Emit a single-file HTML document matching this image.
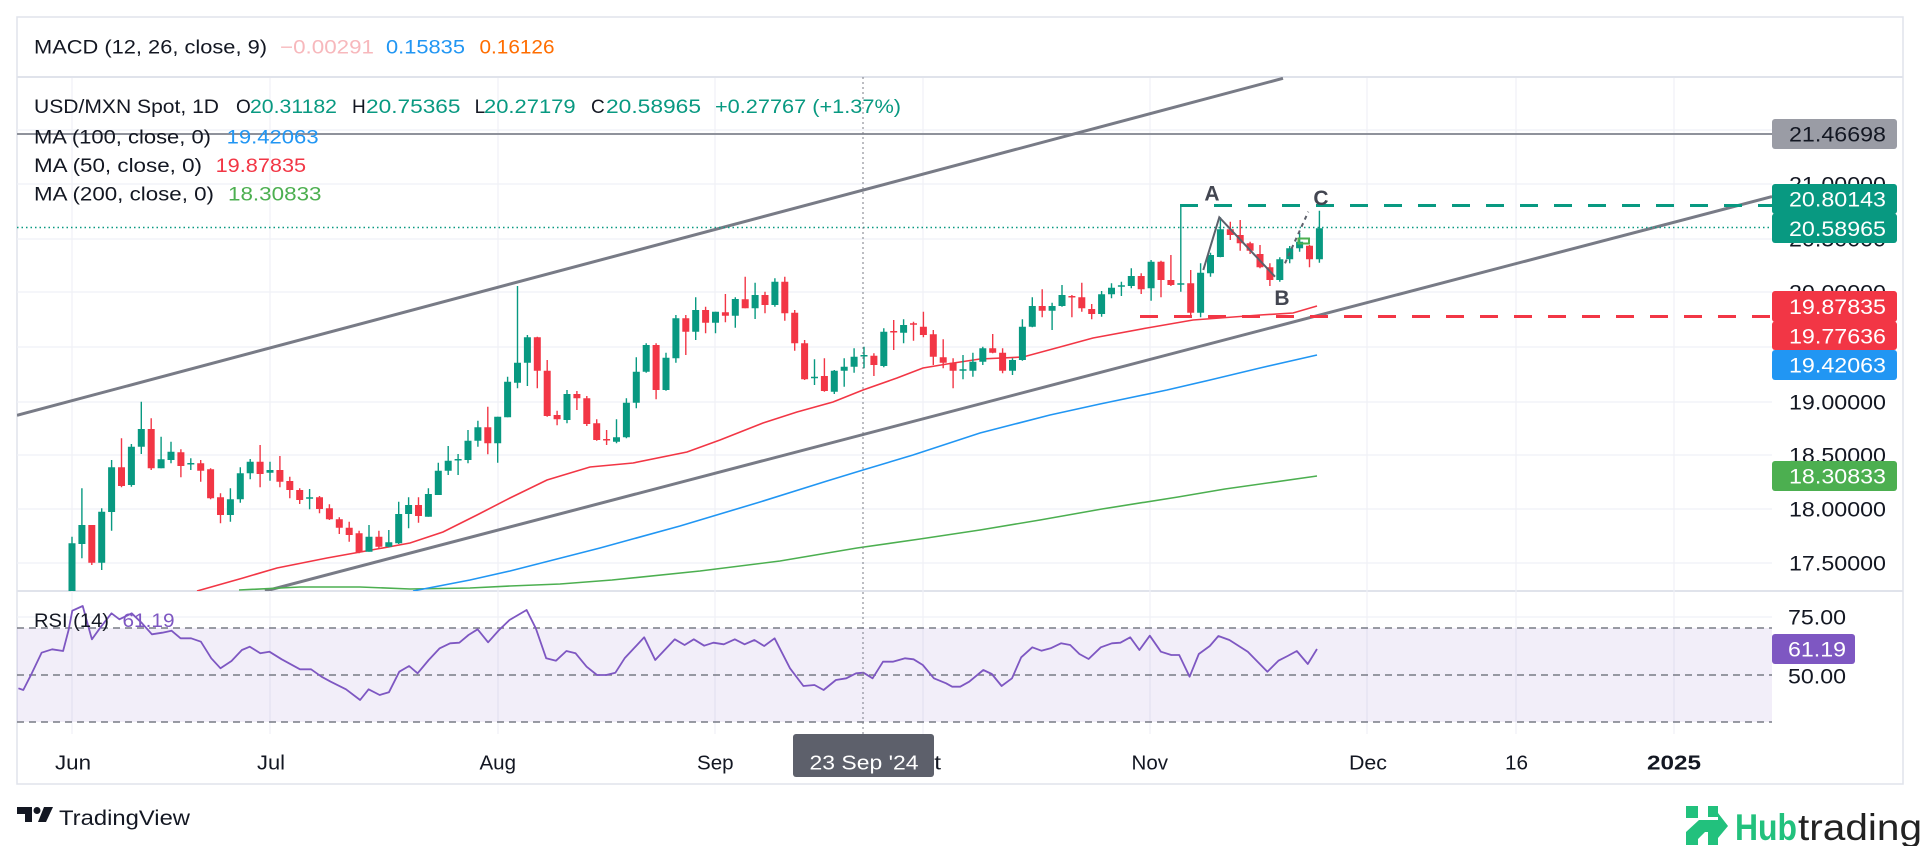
<!DOCTYPE html>
<html><head><meta charset="utf-8"><style>
html,body{margin:0;padding:0;background:#fff;}
svg{display:block;}
text{font-family:"Liberation Sans",Arial,sans-serif;}
</style></head><body>
<svg width="1920" height="846" viewBox="0 0 1920 846" xmlns="http://www.w3.org/2000/svg">
<defs>
<clipPath id="main"><rect x="17" y="77" width="1755" height="514"/></clipPath>
<clipPath id="rsi"><rect x="17" y="591" width="1755" height="143"/></clipPath>
</defs>
<rect width="1920" height="846" fill="#fff"/>
<!-- frame -->
<rect x="17" y="17" width="1886" height="767" fill="none" stroke="#e0e3eb" stroke-width="1.5"/>
<line x1="17" y1="77" x2="1903" y2="77" stroke="#e0e3eb" stroke-width="2"/>
<line x1="17" y1="591" x2="1903" y2="591" stroke="#e0e3eb" stroke-width="2"/>
<!-- vertical grid -->
<g stroke="#eff1f6" stroke-width="1.2">
<line x1="72" y1="78" x2="72" y2="734"/><line x1="270" y1="78" x2="270" y2="734"/><line x1="498" y1="78" x2="498" y2="734"/><line x1="715" y1="78" x2="715" y2="734"/><line x1="923" y1="78" x2="923" y2="734"/><line x1="1150" y1="78" x2="1150" y2="734"/><line x1="1367" y1="78" x2="1367" y2="734"/><line x1="1516" y1="78" x2="1516" y2="734"/><line x1="1674" y1="78" x2="1674" y2="734"/>
</g>
<!-- horizontal grid -->
<g stroke="#eff1f6" stroke-width="1.2">
<line x1="17" y1="130" x2="1772" y2="130"/><line x1="17" y1="184" x2="1772" y2="184"/><line x1="17" y1="239" x2="1772" y2="239"/><line x1="17" y1="292" x2="1772" y2="292"/><line x1="17" y1="347" x2="1772" y2="347"/><line x1="17" y1="402" x2="1772" y2="402"/><line x1="17" y1="455" x2="1772" y2="455"/><line x1="17" y1="509" x2="1772" y2="509"/><line x1="17" y1="563" x2="1772" y2="563"/><line x1="17" y1="617" x2="1772" y2="617"/>
</g>

<g clip-path="url(#main)">
<!-- horizontal resistance line -->
<line x1="17" y1="134" x2="1772" y2="134" stroke="#8f929b" stroke-width="2"/>
<!-- channel -->
<line x1="17" y1="415.3" x2="1283" y2="78.3" stroke="#787b86" stroke-width="3"/>
<line x1="265" y1="591.1" x2="1772" y2="196.6" stroke="#787b86" stroke-width="3"/>
<!-- MAs -->
<polyline fill="none" stroke="#4caf50" stroke-width="1.6" points="239,590 300,587 360,587 410,589 470,588 510,586 560,584 612,580 700,571 780,561 857,548 920,539 980,530 1040,520 1102,509 1178,497 1225,489 1317,476"/>
<polyline fill="none" stroke="#2196f3" stroke-width="1.6" points="413,591 470,580 510,571 600,548 680,526 760,502 827,481 863,470 913,455 980,433 1050,415 1100,404 1167,390 1210,380 1260,368 1317,355"/>
<polyline fill="none" stroke="#f23645" stroke-width="1.6" points="197,591 243,578 277,568 327,558 377,549 410,543 443,532 477,515 510,498 547,480 590,467 633,463 687,452 720,440 763,423 797,412 833,402 863,390 897,378 923,368 947,364 980,359 1023,357 1060,347 1093,338 1147,328 1193,320 1260,315 1293,313 1317,306"/>
<!-- current price dotted -->
<line x1="17" y1="227.5" x2="1772" y2="227.5" stroke="#089981" stroke-width="1.5" stroke-dasharray="1.5 3"/>
<!-- annotation dashed lines -->
<line x1="1180" y1="205.5" x2="1772" y2="205.5" stroke="#089981" stroke-width="3" stroke-dasharray="18 16"/>
<line x1="1140" y1="316.5" x2="1772" y2="316.5" stroke="#f23645" stroke-width="3" stroke-dasharray="18 16"/>
<!-- candles green -->
<path fill="none" stroke="#089981" stroke-width="1.4" d="M72 536.7V600M81.9 488.3V558.3M101.7 508.3V570M111.6 460V530.7M131.4 444V486.7M141.3 401.7V454M161.1 436.7V468.3M171 441.7V463.3M190.8 458.3V470M230.4 488.3V521.7M240.3 467.3V502.7M250.2 459V479.3M270 461.7V480.7M309.6 489V509.3M369 525V551.7M388.8 530V547.3M398.7 501.7V544M408.6 497.3V528.3M428.4 488.3V516.7M438.3 462.7V495M448.2 446V475M458.1 454V475M468 430V463.3M477.9 420.7V446.7M497.7 416.7V462.7M507.6 376.7V417.3M517.5 286V388.3M527.4 335V386M567 390V423.3M616.5 419.3V443.3M626.4 398.3V438.3M636.3 357.3V408.3M646.2 343.3V372.7M666 352.7V390.7M675.9 315V362.7M695.7 297.3V340M715.5 311.7V333.3M735.3 297.3V327.7M755.1 282.7V319M774.9 278.3V306.7M814.5 359.3V385M834.3 370V394M844.2 358.3V386.7M854.1 348.3V372.7M864 346.7V368.3M883.8 328.3V367.3M903.6 319.3V343.3M963 355V379.3M972.9 352.7V376.7M982.8 346.7V365M1012.5 358.3V375M1022.4 319.3V360.7M1032.3 297.3V327.3M1052.1 302.7V330M1062 285V306.7M1101.6 291V316.7M1111.5 283.3V298.3M1121.4 281.7V296M1131.3 268.3V288.3M1151.1 260V300.7M1180.8 205V291.7M1200.6 263.3V317.3M1210.5 252.7V276.7M1220.4 217.3V257.3M1279.8 257.3V281.7M1289.7 246V263.3M1299.6 232.7V251.7M1319.4 210.7V262.7"/>
<path fill="#089981" d="M68.5 543.3h7V600h-7zM78.4 525h7V544h-7zM98.2 511.7h7V562.7h-7zM108.1 467.3h7V512h-7zM127.9 446.7h7V485h-7zM137.8 429h7V446.7h-7zM157.6 459.3h7V468.3h-7zM167.5 451.7h7V460h-7zM187.3 463h7V464.5h-7zM226.9 499.3h7V515h-7zM236.8 473.3h7V499.3h-7zM246.7 461.7h7V473.3h-7zM266.5 470h7V472.7h-7zM306.1 497.3h7V498.7h-7zM365.5 536.7h7V551.7h-7zM385.3 542.3h7V546.7h-7zM395.2 514h7V543.3h-7zM405.1 505h7V514h-7zM424.9 494h7V516.7h-7zM434.8 470.7h7V495h-7zM444.7 460.7h7V470.7h-7zM454.6 459h7V460.5h-7zM464.5 440.7h7V460h-7zM474.4 427.3h7V440.7h-7zM494.2 416.7h7V443.3h-7zM504.1 381.7h7V417.3h-7zM514 362.7h7V382.7h-7zM523.9 337.3h7V362.7h-7zM563.5 394h7V420h-7zM613 437.3h7V441.7h-7zM622.9 402.7h7V437.3h-7zM632.8 371.7h7V402.7h-7zM642.7 345h7V371.7h-7zM662.5 357.7h7V390h-7zM672.4 318.3h7V358.3h-7zM692.2 310h7V331.7h-7zM712 311.7h7V322.7h-7zM731.8 299h7V315.7h-7zM751.6 295h7V308.3h-7zM771.4 281.7h7V305h-7zM811 376.7h7V378.3h-7zM830.8 370.7h7V391.7h-7zM840.7 366.7h7V370.7h-7zM850.6 356.7h7V366.7h-7zM860.5 355h7V356.5h-7zM880.3 331.7h7V366h-7zM900.1 325h7V332.7h-7zM959.5 369.3h7V370.7h-7zM969.4 361.7h7V370.7h-7zM979.3 348.3h7V361.7h-7zM1009 360h7V370.7h-7zM1018.9 326.7h7V360h-7zM1028.8 306h7V326.7h-7zM1048.6 306h7V310.7h-7zM1058.5 295h7V306h-7zM1098.1 294.3h7V314h-7zM1108 287.7h7V294.3h-7zM1117.9 285.3h7V286.7h-7zM1127.8 276h7V286h-7zM1147.6 261.7h7V288.3h-7zM1177.3 283.3h7V284.7h-7zM1197.1 272.7h7V312.7h-7zM1207 255h7V273.3h-7zM1216.9 229.3h7V257h-7zM1276.3 259.3h7V280h-7zM1286.2 248.3h7V259.3h-7zM1296.1 241.7h7V248.3h-7zM1315.9 228.3h7V259.3h-7z"/>
<!-- candles red -->
<path fill="none" stroke="#f23645" stroke-width="1.4" d="M91.8 525V565M121.5 438.3V487.3M151.2 418.3V470M180.9 449.3V477.3M200.7 460V481.7M210.6 468.3V499.3M220.5 493.3V523.3M260.1 445V487.3M279.9 456V487.3M289.8 476.7V498.3M299.7 488.3V504M319.5 496V513.3M329.4 504.3V520M339.3 517.3V534M349.2 521.7V541.7M359.1 530.7V553.3M378.9 530.7V548.3M418.5 497.3V522.7M487.8 406.7V454.3M537.3 336.7V388.3M547.2 360V416.7M557.1 410.7V425.3M576.9 391V410M586.8 396V426M596.7 419.3V440.7M606.6 430V445M656.1 343.3V399.3M685.8 315V355M705.6 306.7V333.3M725.4 294V322.3M745.2 276.7V308.3M765 291.7V313.3M784.8 276.7V320.7M794.7 310V350.7M804.6 340V380M824.4 358.3V391.7M873.9 353.3V376M893.7 320V350M913.5 321.7V340.7M923.4 311.7V337.3M933.3 330V365M943.2 339.3V368.3M953.1 358.3V388.3M992.7 334V353.3M1002.6 348.3V373.3M1042.2 289.3V317.3M1071.9 295V317.3M1081.8 282.7V311.7M1091.7 304V319.3M1141.2 273.3V294M1161 260.7V297.3M1170.9 255V286M1190.7 270V317.3M1230.3 221.7V240M1240.2 220V250.7M1250.1 241.7V254M1260 245V268.3M1269.9 263.3V286M1309.5 245V267.3"/>
<path fill="#f23645" d="M88.3 525h7V562.7h-7zM118 467.3h7V486h-7zM147.7 429h7V468.3h-7zM177.4 452.3h7V466h-7zM197.2 463.3h7V470.7h-7zM207.1 469.3h7V498.3h-7zM217 497.3h7V515h-7zM256.6 461.7h7V474h-7zM276.4 470h7V481.7h-7zM286.3 481h7V490h-7zM296.2 490h7V500h-7zM316 497.3h7V509h-7zM325.9 508.3h7V519.3h-7zM335.8 519.3h7V527.7h-7zM345.7 527.7h7V535h-7zM355.6 533.3h7V552.3h-7zM375.4 536.7h7V546.7h-7zM415 505h7V516h-7zM484.3 427.3h7V443.3h-7zM533.8 337.3h7V370.7h-7zM543.7 370.7h7V416h-7zM553.6 415h7V419.3h-7zM573.4 394h7V398.3h-7zM583.3 398.3h7V424h-7zM593.2 423.3h7V440h-7zM603.1 439h7V440.5h-7zM652.6 345h7V390h-7zM682.3 318.3h7V331.7h-7zM702.1 310h7V322.7h-7zM721.9 312.3h7V315.7h-7zM741.7 299.3h7V308.3h-7zM761.5 295h7V305h-7zM781.3 281.7h7V313.3h-7zM791.2 312.7h7V343.3h-7zM801.1 343.3h7V379.3h-7zM820.9 376h7V391h-7zM870.4 355.7h7V365h-7zM890.2 331h7V332.5h-7zM910 323.3h7V324.7h-7zM919.9 326.7h7V335h-7zM929.8 334.3h7V356.7h-7zM939.7 357.3h7V362.7h-7zM949.6 362.7h7V370.7h-7zM989.2 348.3h7V352.7h-7zM999.1 352.7h7V370.7h-7zM1038.7 306h7V310.7h-7zM1068.4 296h7V297.5h-7zM1078.3 297.3h7V308.3h-7zM1088.2 309h7V314h-7zM1137.7 276h7V289.3h-7zM1157.5 261.7h7V280h-7zM1167.4 280h7V285h-7zM1187.2 283.3h7V312.7h-7zM1226.8 229.3h7V235h-7zM1236.7 235h7V243.3h-7zM1246.6 243.3h7V250.7h-7zM1256.5 254h7V267.3h-7zM1266.4 267.3h7V280h-7zM1306 245.7h7V259.3h-7z"/>
<!-- ABC wave -->
<polyline fill="none" stroke="#5d606b" stroke-width="2" points="1203.3,270 1219.3,217.3 1275,276.7"/>
<line x1="1285" y1="263.3" x2="1308.3" y2="211.7" stroke="#5d606b" stroke-width="2" stroke-dasharray="4 4"/>
<rect x="1298.5" y="238.5" width="10.5" height="5" fill="none" stroke="#4caf50" stroke-width="2"/>
</g>
<text x="1212" y="200.7" font-size="21" font-weight="bold" fill="#434651" text-anchor="middle">A</text>
<text x="1282" y="305" font-size="21" font-weight="bold" fill="#434651" text-anchor="middle">B</text>
<text x="1321" y="205" font-size="21" font-weight="bold" fill="#434651" text-anchor="middle">C</text>

<!-- RSI pane -->
<rect x="17" y="628" width="1755" height="94" fill="#7e57c2" fill-opacity="0.1"/>
<g stroke="#787b86" stroke-width="1.5" stroke-dasharray="7 5">
<line x1="17" y1="628" x2="1772" y2="628"/><line x1="17" y1="675" x2="1772" y2="675"/><line x1="17" y1="722" x2="1772" y2="722"/>
</g>
<polyline clip-path="url(#rsi)" fill="none" stroke="#7e57c2" stroke-width="1.8" stroke-linejoin="round" points="18.4,688.3 23.3,690 31.8,673.3 41.6,652.7 52.1,649.3 63.1,651 68.6,630 72.3,610.7 82.7,606 91.9,639.3 101,626.7 111.5,613.3 119.4,619.3 131.7,613.3 142.1,623.3 151.9,634.3 162.3,632.7 171.5,630.7 180.6,638.3 191.1,638.3 200.9,641.7 211.3,658.3 220.5,668.3 231.5,661 241.9,650 249.8,646.7 260.3,653.3 269.4,651.7 281.7,659.3 300,669.3 311.1,669.3 321.5,676.7 330.7,681.7 346,689.3 360.1,700 368.6,689.3 379.7,695 388.9,692.3 399.3,671.7 409.1,666 417.6,673.3 428.7,660 439.7,648.3 450.1,643.3 459.3,642.7 468.5,635 477.6,629.3 488.1,642.3 499.1,630 509.5,620 526.6,610 535.8,628.3 546.2,658.3 556,660.7 566.4,651 575.6,653.3 586.6,666.7 597,675 606.2,675 615.4,672.7 624.6,658.3 644.2,637.3 655.2,660 674.8,639.3 684.6,645 693.8,639.3 704.2,645.7 713.4,642.7 723.8,644.3 734.8,639.3 744.6,644.3 754.4,640 764.2,646 774.6,638.3 790,668.3 803.4,686 814.5,685 823.6,690 835.9,680 846.3,678.3 856.1,673.3 863.4,672.7 872.6,678.3 883,661.7 892.8,661.7 905.1,658.3 913.6,659.3 922.8,665 933.9,678.3 946.1,683.3 952.2,686.7 960.2,686.7 969.2,681.7 983.3,670 991.8,674 1001.6,686 1012,678.3 1021.2,657.3 1032.3,647.3 1041.4,650.7 1050.6,648.3 1061,643.3 1070.2,645 1079.4,654 1088.6,659 1100.8,647.3 1111.9,643.3 1120.4,642.7 1130.2,637.3 1139.4,650 1149.8,635.7 1160.9,651.7 1171.3,655 1179.2,655 1189.6,676.7 1198.8,654 1209.8,646 1218.4,636 1229.4,640 1247.8,651.7 1267.4,671.7 1278.4,660.7 1287.6,656 1296.8,651 1307.8,664 1317,649"/>

<!-- crosshair -->
<line x1="863" y1="77" x2="863" y2="734" stroke="#787b86" stroke-width="1" stroke-dasharray="2 3"/>

<!-- legends -->
<g font-size="19" fill="#131722">
<text x="34" y="53.5" textLength="233" lengthAdjust="spacingAndGlyphs">MACD (12, 26, close, 9)</text>
<text x="280" y="53.5" textLength="94" lengthAdjust="spacingAndGlyphs" fill="#f7b8bc">−0.00291</text>
<text x="386" y="53.5" textLength="79" lengthAdjust="spacingAndGlyphs" fill="#2196f3">0.15835</text>
<text x="479.5" y="53.5" textLength="75" lengthAdjust="spacingAndGlyphs" fill="#ff6d00">0.16126</text>

<text x="34" y="113" textLength="185" lengthAdjust="spacingAndGlyphs">USD/MXN Spot, 1D</text>
<text x="236" y="113">O</text>
<text x="250" y="113" textLength="87" lengthAdjust="spacingAndGlyphs" fill="#089981">20.31182</text>
<text x="352" y="113">H</text>
<text x="366" y="113" textLength="94.5" lengthAdjust="spacingAndGlyphs" fill="#089981">20.75365</text>
<text x="474.6" y="113">L</text>
<text x="484" y="113" textLength="91.6" lengthAdjust="spacingAndGlyphs" fill="#089981">20.27179</text>
<text x="591" y="113">C</text>
<text x="606" y="113" textLength="95" lengthAdjust="spacingAndGlyphs" fill="#089981">20.58965</text>
<text x="715" y="113" textLength="186" lengthAdjust="spacingAndGlyphs" fill="#089981">+0.27767 (+1.37%)</text>

<text x="34" y="143.5" textLength="177" lengthAdjust="spacingAndGlyphs">MA (100, close, 0)</text>
<text x="226.6" y="143.5" textLength="92" lengthAdjust="spacingAndGlyphs" fill="#2196f3">19.42063</text>
<text x="34" y="172" textLength="168" lengthAdjust="spacingAndGlyphs">MA (50, close, 0)</text>
<text x="215.6" y="172" textLength="90.5" lengthAdjust="spacingAndGlyphs" fill="#f23645">19.87835</text>
<text x="34" y="200.5" textLength="180" lengthAdjust="spacingAndGlyphs">MA (200, close, 0)</text>
<text x="228" y="200.5" textLength="93.5" lengthAdjust="spacingAndGlyphs" fill="#4caf50">18.30833</text>

<text x="34" y="627" textLength="75" lengthAdjust="spacingAndGlyphs">RSI (14)</text>
<text x="122.5" y="627" textLength="52" lengthAdjust="spacingAndGlyphs" fill="#7e57c2">61.19</text>
</g>

<!-- price axis labels -->
<g font-size="21" fill="#131722">
<text x="1789" y="191.5" textLength="97" lengthAdjust="spacingAndGlyphs">21.00000</text>
<text x="1789" y="246.5" textLength="97" lengthAdjust="spacingAndGlyphs">20.50000</text>
<text x="1789" y="299.5" textLength="97" lengthAdjust="spacingAndGlyphs">20.00000</text>
<text x="1789" y="409.5" textLength="97" lengthAdjust="spacingAndGlyphs">19.00000</text>
<text x="1789" y="462.5" textLength="97" lengthAdjust="spacingAndGlyphs">18.50000</text>
<text x="1789" y="516.5" textLength="97" lengthAdjust="spacingAndGlyphs">18.00000</text>
<text x="1789" y="570.5" textLength="97" lengthAdjust="spacingAndGlyphs">17.50000</text>
<text x="1788" y="624.5" textLength="58" lengthAdjust="spacingAndGlyphs">75.00</text>
<text x="1788" y="683.5" textLength="58" lengthAdjust="spacingAndGlyphs">50.00</text>
</g>
<!-- price label boxes -->
<rect x="1772" y="119" width="125" height="30" rx="3" fill="#9a9ca5"/>
<rect x="1772" y="184" width="125" height="30" rx="3" fill="#089981"/>
<rect x="1772" y="213.5" width="125" height="29.5" rx="3" fill="#089981"/>
<rect x="1772" y="291" width="125" height="31" rx="3" fill="#f23645"/>
<rect x="1772" y="321.5" width="125" height="28.5" rx="3" fill="#f23645"/>
<rect x="1772" y="350" width="125" height="30" rx="3" fill="#2196f3"/>
<rect x="1772" y="461" width="125" height="30" rx="3" fill="#4caf50"/>
<rect x="1772" y="634" width="83" height="30" rx="3" fill="#7e57c2"/>
<g font-size="21" fill="#ffffff">
<text x="1789" y="141.5" textLength="97" lengthAdjust="spacingAndGlyphs" fill="#131722">21.46698</text>
<text x="1789" y="206.5" textLength="97" lengthAdjust="spacingAndGlyphs">20.80143</text>
<text x="1789" y="236" textLength="97" lengthAdjust="spacingAndGlyphs">20.58965</text>
<text x="1789" y="314" textLength="97" lengthAdjust="spacingAndGlyphs">19.87835</text>
<text x="1789" y="343.5" textLength="97" lengthAdjust="spacingAndGlyphs">19.77636</text>
<text x="1789" y="372.5" textLength="97" lengthAdjust="spacingAndGlyphs">19.42063</text>
<text x="1789" y="483.5" textLength="97" lengthAdjust="spacingAndGlyphs">18.30833</text>
<text x="1788" y="656.5" textLength="58" lengthAdjust="spacingAndGlyphs">61.19</text>
</g>

<!-- time axis -->
<g font-size="20" fill="#131722">
<text x="55" y="769.5" textLength="36" lengthAdjust="spacingAndGlyphs">Jun</text>
<text x="257" y="769.5" textLength="28" lengthAdjust="spacingAndGlyphs">Jul</text>
<text x="479.5" y="769.5" textLength="36.5" lengthAdjust="spacingAndGlyphs">Aug</text>
<text x="697" y="769.5" textLength="36.6" lengthAdjust="spacingAndGlyphs">Sep</text>
<text x="903" y="769.5" textLength="38" lengthAdjust="spacingAndGlyphs">Oct</text>
<text x="1131.5" y="769.5" textLength="36.5" lengthAdjust="spacingAndGlyphs">Nov</text>
<text x="1349" y="769.5" textLength="38" lengthAdjust="spacingAndGlyphs">Dec</text>
<text x="1505" y="769.5" textLength="23" lengthAdjust="spacingAndGlyphs">16</text>
<text x="1647" y="769.5" textLength="54" lengthAdjust="spacingAndGlyphs" font-weight="bold">2025</text>
</g>
<rect x="793" y="734" width="141" height="43" rx="3" fill="#5d606b"/>
<text x="809.5" y="769.5" font-size="20" fill="#ffffff" textLength="109" lengthAdjust="spacingAndGlyphs">23 Sep '24</text>

<!-- TradingView logo -->
<g fill="#131722">
<path d="M17 807h15v15h-7v-8h-8z"/>
<circle cx="37" cy="810.5" r="3.5"/>
<path d="M44 807h9l-7 15h-8z"/>
</g>
<text x="59" y="825" font-size="21" fill="#131722" textLength="131" lengthAdjust="spacingAndGlyphs">TradingView</text>

<!-- Hubtrading logo -->
<g fill="#22c17d">
<rect x="1686" y="806" width="12" height="12"/>
<rect x="1708" y="806" width="10" height="11"/>
<rect x="1708" y="832" width="10" height="13"/>
<path d="M1686 845V832L1699 820H1718V813L1728 826L1718 838V832H1705L1698 839V845Z"/>
</g>
<text x="1735" y="840" font-size="37" font-weight="bold" fill="#22c17d" textLength="62" lengthAdjust="spacingAndGlyphs">Hub</text>
<text x="1798" y="840" font-size="37" fill="#222222" textLength="124" lengthAdjust="spacingAndGlyphs">trading</text>
</svg>
</body></html>
